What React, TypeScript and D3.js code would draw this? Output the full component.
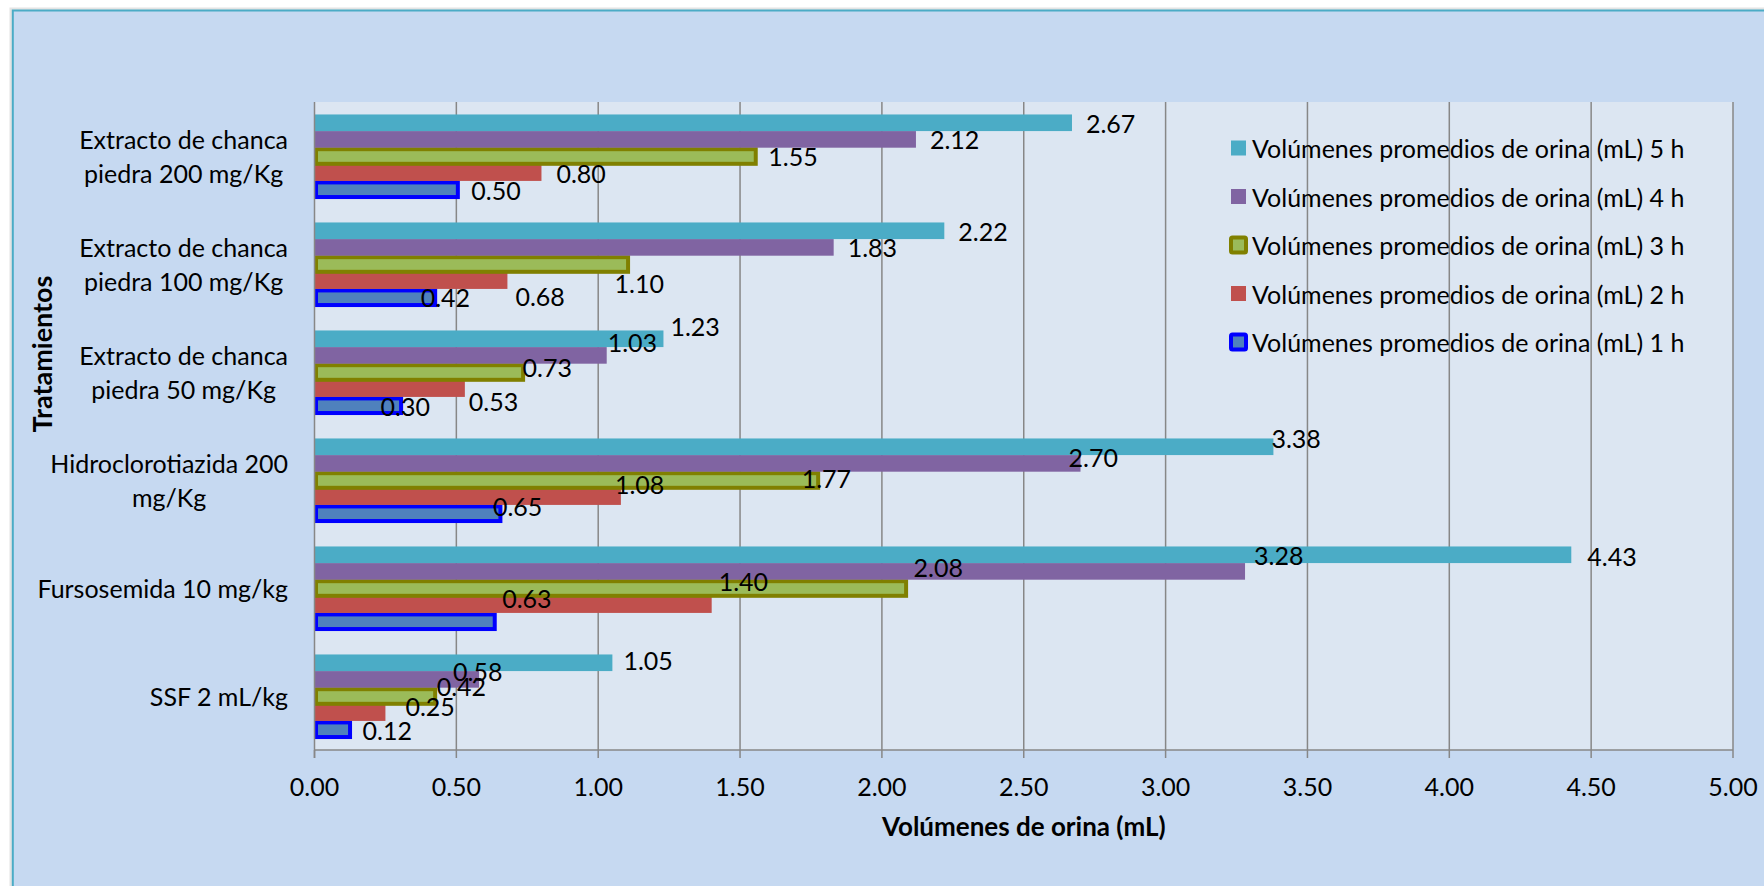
import { useEffect, useRef } from 'react'
import * as d3 from 'd3'

// ── Data ─────────────────────────────────────────────────────────
const categories = [
  'Extracto de chanca\npiedra 200 mg/Kg',
  'Extracto de chanca\npiedra 100 mg/Kg',
  'Extracto de chanca\npiedra 50 mg/Kg',
  'Hidroclorotiazida 200\nmg/Kg',
  'Fursosemida 10 mg/kg',
  'SSF 2 mL/kg',
]

const seriesNames = [
  'Volúmenes promedios de orina (mL) 5 h',
  'Volúmenes promedios de orina (mL) 4 h',
  'Volúmenes promedios de orina (mL) 3 h',
  'Volúmenes promedios de orina (mL) 2 h',
  'Volúmenes promedios de orina (mL) 1 h',
]

const vol5h = [2.67, 2.22, 1.23, 3.38, 4.43, 1.05]
const vol4h = [2.12, 1.83, 1.03, 2.7, 3.28, 0.58]
const vol3h = [1.55, 1.1, 0.73, 1.77, 2.08, 0.42]
const vol2h = [0.8, 0.68, 0.53, 1.08, 1.4, 0.25]
const vol1h = [0.5, 0.42, 0.3, 0.65, 0.63, 0.12]

const xTicks = [0, 0.5, 1, 1.5, 2, 2.5, 3, 3.5, 4, 4.5, 5]

const xTitle = 'Volúmenes de orina (mL)'
const yTitle = 'Tratamientos'

// ── Styling ──────────────────────────────────────────────────────
const seriesStyle = [
  { fill: '#4BACC6', stroke: 'none' },
  { fill: '#8064A2', stroke: 'none' },
  { fill: '#9BBB59', stroke: '#808000' },
  { fill: '#C0504D', stroke: 'none' },
  { fill: '#4F81BD', stroke: '#0000FF' },
]

// hand-dragged data labels in the original: [dx, dy] px from default spot
const labelNudge = [
  [[0, 0], [0, 0], [-7, -12.5], [-16, -8.5], [2, 1], [-3, -2.5]],
  [[0, 0], [0, 0], [-13, -13], [-26, -6], [-5, -16], [-40, -8.5]],
  [[0, 0], [-26, 19], [-13, -5], [-29, -2], [-5, -21], [-11, -10]],
  [[1, 0], [-6, 15], [-10, 12], [-20, -12.5], [-7, -24], [6, -7]],
  [[1, 1], [-27, 0], [-33, 1], [-20, -7.5], [-5, -23], [0, 1]],
]

const FONT = 'Lato, "Open Sans", sans-serif'
const FS = 25

export default function App() {
  const svgRef = useRef<SVGSVGElement>(null)

  useEffect(() => {
    const svg = svgRef.current
    if (!svg) return
    const W = 1764
    const H = 886
    const plot = { left: 314.5, right: 1733, top: 102, bottom: 750 }

    const root = d3.select(svg)
    root.selectAll('*').remove()
    root.attr('width', W).attr('height', H)

    const values = [vol5h, vol4h, vol3h, vol2h, vol1h]

    // ── Chart frame ───────────────────────────────────────────────
    root.append('rect').attr('x', 0).attr('y', 0).attr('width', W).attr('height', H).attr('fill', '#ffffff')
    root
      .append('rect')
      .attr('x', 9.5).attr('y', 7.5)
      .attr('width', W).attr('height', H)
      .attr('fill', '#e4e4e4')
    root
      .append('rect')
      .attr('x', 12.8).attr('y', 10.5)
      .attr('width', W).attr('height', H)
      .attr('fill', '#C6D9F1')
      .attr('stroke', '#4BACC6')
      .attr('stroke-width', 2)

    // ── Scales ────────────────────────────────────────────────────
    const x = d3.scaleLinear().domain([0, 5]).range([plot.left, plot.right])
    const p = 1.5 / 6.5
    const y = d3
      .scaleBand()
      .domain(categories)
      .range([plot.top, plot.bottom])
      .paddingInner(p)
      .paddingOuter(p / 2)
    const ySub = d3
      .scaleBand()
      .domain(seriesNames)
      .range([0, y.bandwidth()])
      .padding(0)

    // ── Plot area + grid ──────────────────────────────────────────
    root
      .append('rect')
      .attr('x', plot.left).attr('y', plot.top)
      .attr('width', plot.right - plot.left)
      .attr('height', plot.bottom - plot.top)
      .attr('fill', '#DCE6F2')

    root
      .append('g')
      .selectAll('line')
      .data(xTicks.slice(1))
      .join('line')
      .attr('x1', (d) => x(d)).attr('x2', (d) => x(d))
      .attr('y1', plot.top).attr('y2', plot.bottom)
      .attr('stroke', '#878787')
      .attr('stroke-width', 1.5)

    // ── Bars (Excel draws 1 h first) ──────────────────────────────
    for (let s = seriesNames.length - 1; s >= 0; s--) {
      const st = seriesStyle[s]
      const hasStroke = st.stroke !== 'none'
      root
        .append('g')
        .selectAll('rect')
        .data(values[s])
        .join('rect')
        .attr('x', x(0) + (hasStroke ? 1.5 : 0))
        .attr('y', (_, i) => y(categories[i])! + ySub(seriesNames[s])! + (hasStroke ? 1.5 : 0))
        .attr('width', (d) => x(d) - x(0))
        .attr('height', ySub.bandwidth() - (hasStroke ? 2 : 0))
        .attr('fill', st.fill)
        .attr('stroke', st.stroke)
        .attr('stroke-width', 4)
    }

    // ── Axes lines ────────────────────────────────────────────────
    root
      .append('line')
      .attr('x1', plot.left).attr('x2', plot.left)
      .attr('y1', plot.top).attr('y2', plot.bottom + 8)
      .attr('stroke', '#878787').attr('stroke-width', 1.5)
    root
      .append('line')
      .attr('x1', plot.left).attr('x2', plot.right)
      .attr('y1', plot.bottom).attr('y2', plot.bottom)
      .attr('stroke', '#878787').attr('stroke-width', 1.5)
    root
      .append('g')
      .selectAll('line')
      .data(xTicks)
      .join('line')
      .attr('x1', (d) => x(d)).attr('x2', (d) => x(d))
      .attr('y1', plot.bottom).attr('y2', plot.bottom + 8)
      .attr('stroke', '#878787').attr('stroke-width', 1.5)

    // tick labels
    root
      .append('g')
      .selectAll('text')
      .data(xTicks)
      .join('text')
      .attr('x', (d) => x(d))
      .attr('y', 786)
      .attr('text-anchor', 'middle')
      .attr('dominant-baseline', 'central')
      .attr('font-family', FONT)
      .attr('font-size', FS)
      .attr('fill', '#000')
      .text((d) => d.toFixed(2))

    // axis titles
    root
      .append('text')
      .attr('x', (plot.left + plot.right) / 2)
      .attr('y', 826)
      .attr('text-anchor', 'middle')
      .attr('dominant-baseline', 'central')
      .attr('font-family', FONT)
      .attr('font-size', 26)
      .attr('font-weight', 'bold')
      .text(xTitle)

    root
      .append('text')
      .attr('transform', 'translate(41,354) rotate(-90)')
      .attr('text-anchor', 'middle')
      .attr('dominant-baseline', 'central')
      .attr('font-family', FONT)
      .attr('font-size', 27)
      .attr('font-weight', 'bold')
      .text(yTitle)

    // ── Category labels (centred lines, right-aligned block) ─────
    categories.forEach((cat) => {
      const lines = cat.split('\n')
      const cy = y(cat)! + y.bandwidth() / 2
      const g = root.append('g')
      lines.forEach((ln, i) => {
        g.append('text')
          .attr('x', 0)
          .attr('y', cy + (i - (lines.length - 1) / 2) * 34)
          .attr('text-anchor', 'middle')
          .attr('dominant-baseline', 'central')
          .attr('font-family', FONT)
          .attr('font-size', FS)
          .attr('fill', '#000')
          .text(ln)
      })
      const bb = (g.node() as SVGGElement).getBBox()
      g.attr('transform', `translate(${288 - (bb.x + bb.width)},0)`)
    })

    // ── Data labels ───────────────────────────────────────────────
    seriesNames.forEach((name, s) => {
      values[s].forEach((v, i) => {
        const [dx, dy] = labelNudge[s][i]
        root
          .append('text')
          .attr('x', x(v) + 14 + dx)
          .attr('y', y(categories[i])! + ySub(name)! + ySub.bandwidth() / 2 + dy)
          .attr('dominant-baseline', 'central')
          .attr('font-family', FONT)
          .attr('font-size', FS)
          .attr('fill', '#000')
          .text(v.toFixed(2))
      })
    })

    // ── Legend ────────────────────────────────────────────────────
    const legendY = d3.scalePoint().domain(seriesNames).range([148, 342])
    seriesNames.forEach((name, s) => {
      const st = seriesStyle[s]
      const ly = legendY(name)!
      if (st.stroke === 'none') {
        root
          .append('rect')
          .attr('x', 1231).attr('y', ly - 7.5)
          .attr('width', 15).attr('height', 15)
          .attr('fill', st.fill)
      } else {
        root
          .append('rect')
          .attr('x', 1231).attr('y', ly - 7.5)
          .attr('width', 15).attr('height', 15)
          .attr('rx', 1.5)
          .attr('fill', st.fill)
          .attr('stroke', st.stroke)
          .attr('stroke-width', 4)
      }
      root
        .append('text')
        .attr('x', 1252)
        .attr('y', ly)
        .attr('dominant-baseline', 'central')
        .attr('font-family', FONT)
        .attr('font-size', FS)
        .attr('fill', '#000')
        .text(name)
    })
  }, [])

  return (
    <div style={{ position: 'absolute', left: 0, top: 0 }}>
      <svg ref={svgRef} style={{ display: 'block' }} />
    </div>
  )
}
